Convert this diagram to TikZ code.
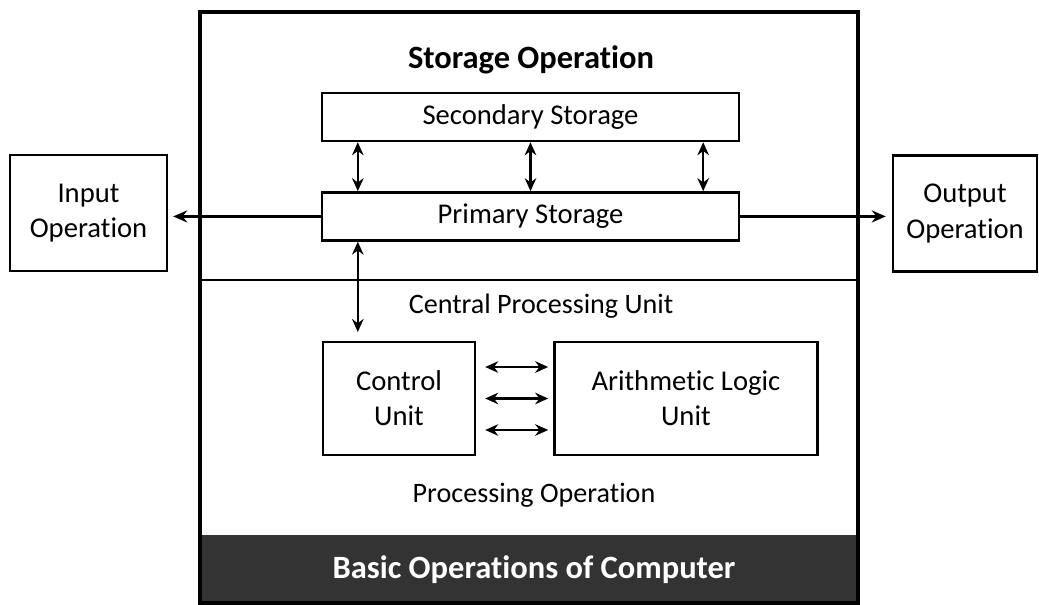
\documentclass[tikz,border=0pt]{standalone}
\usepackage{fontspec}
\setmainfont{Carlito}[Ligatures=NoCommon]
\usetikzlibrary{arrows.meta, positioning}

\begin{document}
\begin{tikzpicture}[
  x=0.02cm, y=-0.02cm,
  node distance=0.98cm and 1.54cm,
  box/.style={rectangle, draw=black, line width=1.4pt, inner sep=0pt,
             align=center, font=\fontsize{16.3}{20}\selectfont},
  storebox/.style={box, minimum width=8.34cm, minimum height=0.96cm},
  opbox/.style={box, minimum height=2.32cm},
  unitbox/.style={box, minimum height=2.25cm},
  title/.style={font=\bfseries\fontsize{18.5}{22}\selectfont},
  note/.style={font=\fontsize{16}{20}\selectfont},
  arrow/.style={-{Stealth[length=2.8mm, width=2.4mm]}, line width=1.3pt},
  dblarrow/.style={{Stealth[length=2.6mm, width=2.3mm]}-{Stealth[length=2.6mm, width=2.3mm]}, line width=1.2pt}
]
\useasboundingbox (0,0) rectangle (1039,605);

% frame of the computer
\fill[black!80] (200,535) rectangle (858,603);
\draw[line width=1.8pt] (200,12) rectangle (858,603);
\draw[line width=1.4pt] (200,280) -- (858,280);

\node[title] (storeop) at (531,60) {Storage Operation};
\node[storebox] (sec) at (530.5,117) {Secondary Storage};
\node[storebox, below=of sec] (prim) {Primary Storage};

\node[opbox, minimum width=3.14cm] (input) at (88.5,213) {Input\\Operation};
\node[opbox, minimum width=2.88cm] (output) at (965,213.5) {Output\\Operation};

\node[note] (cpu) at (541,306) {Central Processing Unit};
\node[unitbox, minimum width=3.04cm] (ctrl) at (399,398.5) {Control\\Unit};
\node[unitbox, minimum width=5.26cm, right=of ctrl] (alu) {Arithmetic Logic\\Unit};
\node[note] (procop) at (534,495) {Processing Operation};

\node[title, text=white] (basic) at (534,570) {Basic Operations of Computer};

% connectors
\foreach \sx/\from/\to in {0.74/south west/north west, 0/south/north, -0.74/south east/north east}
  \draw[dblarrow] ([xshift=\sx cm]sec.\from) -- ([xshift=\sx cm]prim.\to);

\draw[arrow, shorten >=0.1cm] (prim.west) -- (prim.west -| input.east);
\draw[arrow, shorten >=0.12cm] (prim.east) -- (prim.east -| output.west);

\coordinate (tap) at ([xshift=0.74cm]prim.south west);
\draw[dblarrow, shorten >=0.18cm] (tap) -- (tap |- ctrl.north);

\foreach \dy in {-0.63,0,0.63}
  \draw[dblarrow, shorten <=0.18cm, shorten >=0.1cm] ([yshift=\dy cm]ctrl.east) -- ([yshift=\dy cm]alu.west);

\end{tikzpicture}
\end{document}
